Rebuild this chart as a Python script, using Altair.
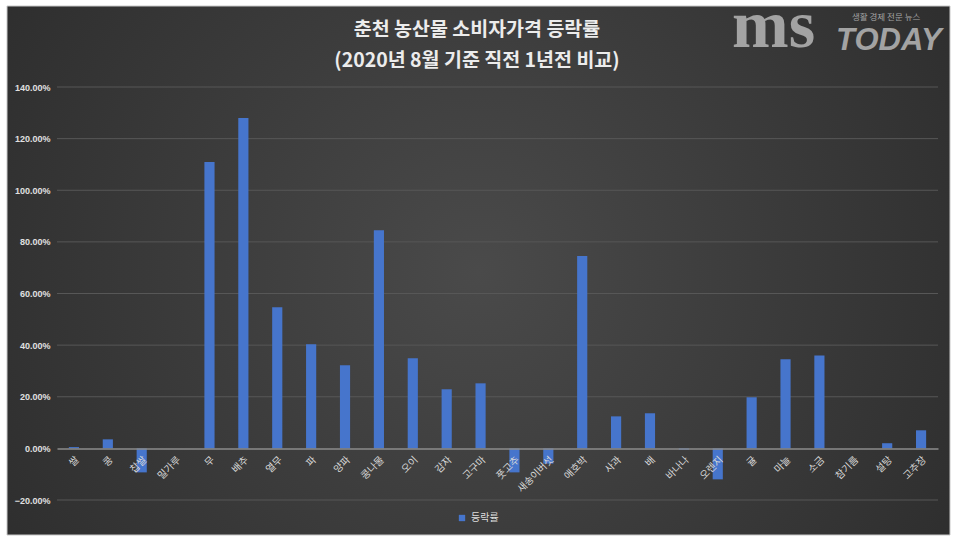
import altair as alt
import pandas as pd

categories = ["쌀", "콩", "찹쌀", "밀가루", "무", "배추", "열무", "파", "양파", "콩나물",
              "오이", "감자", "고구마", "풋고추", "새송이버섯", "애호박", "사과", "배", "바나나",
              "오렌지", "귤", "마늘", "소금", "참기름", "설탕", "고추장"]
values_pct = [0.5, 3.5, -9.3, 0.0, 110.9, 128.0, 54.7, 40.3, 32.2, 84.5,
              34.9, 22.9, 25.2, -9.3, -5.9, 74.5, 12.4, 13.6, -0.5,
              -12.0, 19.8, 34.5, 36.0, 0.0, 2.0, 7.0]
series_name = "등락률"
title_line1 = "춘천 농산물 소비자가격 등락률"
title_line2 = "(2020년 8월 기준 직전 1년전 비교)"
y_ticks = [-0.2, 0.0, 0.2, 0.4, 0.6, 0.8, 1.0, 1.2, 1.4]

KFONT = "Noto Sans CJK KR"
W, H = 881, 413

df = pd.DataFrame({
    "품목": categories,
    "value": [v / 100 for v in values_pct],
    "series": [series_name] * len(categories),
})
grid_df = pd.DataFrame({"value": [t for t in y_ticks if t != 0.0]})

yscale = alt.Scale(domain=[-0.2, 1.4], nice=False)
yaxis = alt.Axis(title=None, format=".2%", values=y_ticks,
                 labelColor="#e0e0e0", labelFontSize=9,
                 labelFont="Liberation Sans", labelFontWeight="bold",
                 domain=False, ticks=False, labelPadding=7,
                 grid=False, zindex=1)

bg = alt.Chart(pd.DataFrame({"a": [0]})).mark_rect(
    fill=alt.Gradient(
        gradient="radial",
        stops=[alt.GradientStop(color="#4a4a4a", offset=0),
               alt.GradientStop(color="#262626", offset=1)],
        x1=0.5, y1=0.5, r1=0, x2=0.5, y2=0.5, r2=0.75,
    ),
    stroke="#c8c8c8", strokeWidth=1,
).encode(
    x=alt.value(-50), x2=alt.value(893), y=alt.value(-81), y2=alt.value(448)
)

grid = alt.Chart(grid_df).mark_rule(color="#575757", strokeWidth=1).encode(
    y=alt.Y("value:Q", scale=yscale, axis=yaxis),
    x=alt.value(0), x2=alt.value(W),
)

zero_px = H * (1.4 / 1.6)

bars = alt.Chart(df).mark_bar(color="#4675CC").encode(
    x=alt.X("품목:N", sort=categories,
            scale=alt.Scale(paddingInner=0.7, paddingOuter=0.35),
            axis=alt.Axis(title=None, labelAngle=-45, labelColor="#d8d8d8",
                          labelFont=KFONT, labelFontSize=10, ticks=False,
                          domainColor="#8c8c8c", domainWidth=1.5,
                          offset=-(H - zero_px), labelPadding=6, grid=False,
                          zindex=1)),
    y=alt.Y("value:Q", scale=yscale, axis=yaxis),
    color=alt.Color("series:N", scale=alt.Scale(range=["#4675CC"]),
                    legend=alt.Legend(title=None, orient="none", legendX=400, legendY=426,
                                      labelColor="#dddddd", labelFont=KFONT,
                                      labelFontSize=10, symbolType="square",
                                      symbolSize=40, symbolStrokeWidth=0)),
)

def txt(t, **kw):
    pos = {k: kw.pop(k) for k in ("x", "y")}
    return alt.Chart(pd.DataFrame({"t": [t]})).mark_text(**kw).encode(
        text="t:N", x=alt.value(pos["x"]), y=alt.value(pos["y"]))

title1 = txt(title_line1, x=420, y=-57, font=KFONT, fontSize=19.5, fontWeight="bold",
             color="#ececec", align="center", baseline="middle")
title2 = txt(title_line2, x=420, y=-26, font=KFONT, fontSize=19.5, fontWeight="bold",
             color="#ececec", align="center", baseline="middle")

logo_ms = txt("ms", x=675, y=-40, font="Liberation Serif", fontSize=68, fontWeight="bold",
              color="#a3a3a3", align="left", baseline="alphabetic")
logo_today = txt("TODAY", x=779, y=-37, font="Liberation Sans", fontSize=31,
                 fontWeight="bold", fontStyle="italic", color="#a3a3a3",
                 align="left", baseline="alphabetic")
logo_sub = txt("생활 경제 전문 뉴스", x=795, y=-67, font=KFONT, fontSize=8.5,
               color="#a3a3a3", align="left", baseline="alphabetic")

chart = alt.layer(bg, grid, bars, title1, title2, logo_ms, logo_today, logo_sub).properties(
    width=W, height=H,
    autosize="none",
    padding={"left": 57, "top": 87, "right": 22, "bottom": 47},
    background="white",
).configure_view(stroke=None)

chart.save("out.html", embed_options={"renderer": "svg", "actions": False})
